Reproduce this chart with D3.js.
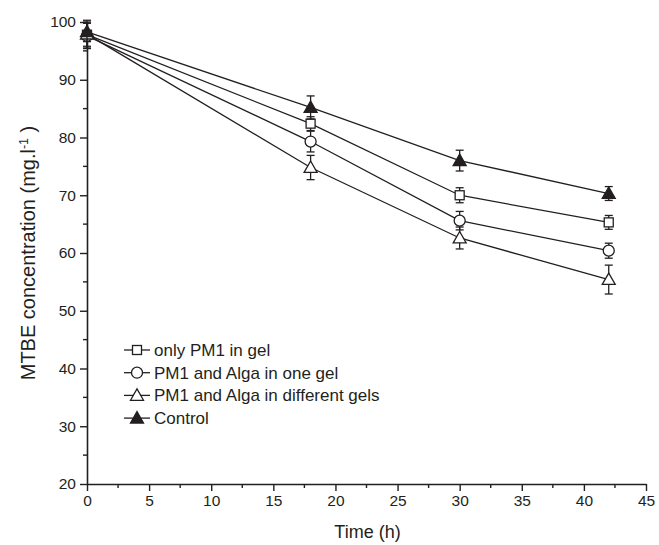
<!DOCTYPE html>
<html>
<head>
<meta charset="utf-8">
<script src="https://cdn.jsdelivr.net/npm/d3@7"></script>
<style>
body{margin:0;background:#fff;}
text{font-family:"Liberation Sans",Arial,sans-serif;fill:#231f20;}
</style>
</head>
<body>
<svg id="chart" width="659" height="545"></svg>
<script>
const times = [0, 18, 30, 42];
const seriesNames = ["only PM1 in gel", "PM1 and Alga in one gel", "PM1 and Alga in different gels", "Control"];
const seriesShapes = ["square", "circle", "triangle", "triangleFilled"];
const onlyPM1 = [97.8, 82.4, 70.0, 65.3];
const onlyPM1Err = [2.0, 1.2, 1.3, 1.2];
const oneGel = [97.6, 79.3, 65.6, 60.4];
const oneGelErr = [2.2, 1.8, 1.6, 1.3];
const diffGels = [97.9, 74.8, 62.6, 55.4];
const diffGelsErr = [2.4, 2.1, 1.9, 2.5];
const control = [98.3, 85.2, 76.0, 70.3];
const controlErr = [1.7, 2.0, 1.8, 1.2];
const xTicks = [0, 5, 10, 15, 20, 25, 30, 35, 40, 45];
const yTicks = [20, 30, 40, 50, 60, 70, 80, 90, 100];

const seriesValues = [onlyPM1, oneGel, diffGels, control];
const seriesErrs = [onlyPM1Err, oneGelErr, diffGelsErr, controlErr];

const svg = d3.select("#chart");
const mLeft = 87, mRight = 646, mTop = 22, mBottom = 484;
const x = d3.scaleLinear().domain([0, 45]).range([mLeft, mRight]);
const y = d3.scaleLinear().domain([20, 100]).range([mBottom, mTop]);
const ink = "#231f20";

// axes
const xAxis = d3.axisBottom(x).tickValues(xTicks).tickSize(7).tickPadding(4).tickSizeOuter(0);
const gx = svg.append("g").attr("transform", `translate(0,${mBottom})`).call(xAxis);
const yAxis = d3.axisLeft(y).tickValues(yTicks).tickSize(7).tickPadding(4).tickSizeOuter(0);
const gy = svg.append("g").attr("transform", `translate(${mLeft},0)`).call(yAxis);
[gx, gy].forEach(g => {
  g.select(".domain").attr("stroke", ink).attr("stroke-width", 1.6);
  g.selectAll(".tick line").attr("stroke", ink).attr("stroke-width", 1.4);
  g.selectAll(".tick text").attr("font-size", 15.5).attr("font-family", "Liberation Sans, Arial, sans-serif").attr("fill", ink);
});
// minor ticks
const xMinor = d3.range(2.5, 45, 5);
svg.append("g").selectAll("line").data(xMinor).join("line")
  .attr("x1", d => x(d)).attr("x2", d => x(d)).attr("y1", mBottom).attr("y2", mBottom + 4)
  .attr("stroke", ink).attr("stroke-width", 1.4);
const yMinor = d3.range(25, 100, 5).filter(v => v % 10 !== 0);
svg.append("g").selectAll("line").data(yMinor).join("line")
  .attr("y1", d => y(d)).attr("y2", d => y(d)).attr("x1", mLeft).attr("x2", mLeft - 4)
  .attr("stroke", ink).attr("stroke-width", 1.4);

// axis titles
svg.append("text").attr("x", (mLeft + mRight) / 2 + 1).attr("y", 538).attr("text-anchor", "middle")
  .attr("font-size", 18).text("Time (h)");
const yl = svg.append("text").attr("transform", `translate(35,${(mTop + mBottom) / 2}) rotate(-90)`)
  .attr("text-anchor", "middle").attr("font-size", 20);
yl.append("tspan").text("MTBE concentration (mg.l");
yl.append("tspan").attr("dy", -7).attr("font-size", 12.5).text("-1");
yl.append("tspan").attr("dy", 7).text(" )");

function drawMarker(g, shape, cx, cy) {
  if (shape === "square") {
    g.append("rect").attr("x", cx - 4.5).attr("y", cy - 4.5).attr("width", 9).attr("height", 9)
      .attr("fill", "#fff").attr("stroke", ink).attr("stroke-width", 1.3);
  } else if (shape === "circle") {
    g.append("circle").attr("cx", cx).attr("cy", cy).attr("r", 5.5)
      .attr("fill", "#fff").attr("stroke", ink).attr("stroke-width", 1.3);
  } else {
    const s = 6.5;
    g.append("path").attr("d", `M${cx},${cy - s}L${cx + s},${cy + s * 0.75}L${cx - s},${cy + s * 0.75}Z`)
      .attr("fill", shape === "triangleFilled" ? ink : "#fff").attr("stroke", ink).attr("stroke-width", 1.3);
  }
}

const line = d3.line().x(d => x(d[0])).y(d => y(d[1]));
seriesValues.forEach((vals, i) => {
  const pts = times.map((t, j) => [t, vals[j]]);
  svg.append("path").attr("d", line(pts)).attr("fill", "none").attr("stroke", ink).attr("stroke-width", 1.3);
});
seriesValues.forEach((vals, i) => {
  const g = svg.append("g");
  times.forEach((t, j) => {
    const e = seriesErrs[i][j];
    const cx = x(t), y1 = y(vals[j] + e), y2 = y(vals[j] - e);
    g.append("line").attr("x1", cx).attr("x2", cx).attr("y1", y1).attr("y2", y2).attr("stroke", ink).attr("stroke-width", 1.3);
    [y1, y2].forEach(yy => g.append("line").attr("x1", cx - 4).attr("x2", cx + 4).attr("y1", yy).attr("y2", yy)
      .attr("stroke", ink).attr("stroke-width", 1.3));
  });
  times.forEach((t, j) => drawMarker(g, seriesShapes[i], x(t), y(vals[j])));
});

// legend
const legY0 = 350, legDy = 22.7, legX = 124;
seriesNames.forEach((name, i) => {
  const ly = legY0 + i * legDy;
  const g = svg.append("g");
  g.append("line").attr("x1", legX).attr("x2", legX + 26).attr("y1", ly).attr("y2", ly).attr("stroke", ink).attr("stroke-width", 1.3);
  drawMarker(g, seriesShapes[i], legX + 13, ly);
  g.append("text").attr("x", legX + 30).attr("y", ly + 6).attr("font-size", 17).text(name);
});
</script>
</body>
</html>
